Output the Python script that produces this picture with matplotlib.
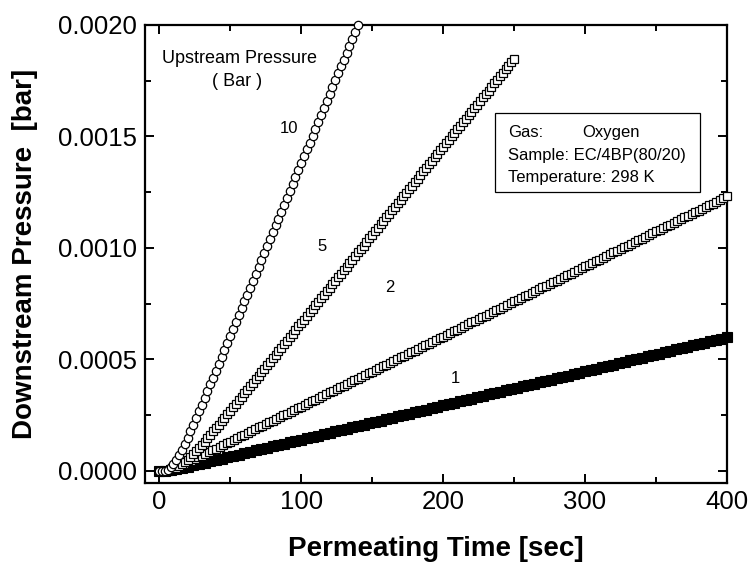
import numpy as np
import matplotlib
matplotlib.use('Agg')
import matplotlib.pyplot as plt
from matplotlib.ticker import MultipleLocator, FormatStrFormatter
from matplotlib.patches import Rectangle

plt.rcParams['font.family'] = ['Liberation Sans', 'DejaVu Sans']

# ---------------- data (downstream pressure in micro-bar) ----------------
# sampling interval of each run [s]
step_10 = 2.0
step_5 = 2.0
step_2 = 2.5
step_1 = 4.0

# Upstream pressure 10 bar
p10_ubar = [0, 0, 1, 6, 16, 31, 50, 72, 96, 123, 150, 178, 207, 237, 267, 297,
            327, 358, 388, 419, 450, 481, 512, 543, 574, 605, 636, 667, 698, 729,
            760, 791, 822, 853, 884, 915, 946, 977, 1008, 1039, 1070, 1101, 1132,
            1163, 1194, 1225, 1256, 1287, 1318, 1349, 1380, 1411, 1442, 1473, 1504,
            1535, 1566, 1597, 1628, 1659, 1690, 1721, 1752, 1783, 1814, 1845, 1876,
            1907, 1938, 1969, 2000]

# Upstream pressure 5 bar
p5_ubar = [0, 0, 0, 1, 3, 7, 13, 21, 30, 40, 51, 63, 76, 90, 103, 118, 132, 147,
           162, 177, 192, 207, 223, 238, 254, 270, 285, 301, 316, 332, 348, 364,
           379, 395, 411, 427, 442, 458, 474, 490, 506, 521,
           537, 553, 569, 585, 600, 616, 632, 648, 664, 679,
           695, 711, 727, 743, 758, 774, 790, 806, 822, 837,
           853, 869, 885, 901, 916, 932, 948, 964, 980, 995,
           1011, 1027, 1043, 1059, 1074, 1090, 1106, 1122, 1138, 1153,
           1169, 1185, 1201, 1217, 1232, 1248, 1264, 1280, 1296, 1311,
           1327, 1343, 1359, 1375, 1390, 1406, 1422, 1438, 1454, 1469,
           1485, 1501, 1517, 1533, 1548, 1564, 1580, 1596, 1612, 1627,
           1643, 1659, 1675, 1691, 1706, 1722, 1738, 1754, 1770, 1785,
           1801, 1817, 1833, 1849]

# Upstream pressure 2 bar
p2_ubar = [0, 0, 1, 5, 10, 16, 23, 31, 38, 46, 54,
           61, 69, 77, 85, 93, 100, 108, 116, 124, 132,
           140, 148, 155, 163, 171, 179, 187, 195, 203, 210,
           218, 226, 234, 242, 250, 257, 265, 273, 281, 289,
           297, 305, 312, 320, 328, 336, 344, 352, 360, 367,
           375, 383, 391, 399, 407, 414, 422, 430, 438, 446,
           454, 462, 469, 477, 485, 493, 501, 509, 517, 524,
           532, 540, 548, 556, 564, 571, 579, 587, 595, 603,
           611, 619, 626, 634, 642, 650, 658, 666, 674, 681,
           689, 697, 705, 713, 721, 728, 736, 744, 752, 760,
           768, 776, 783, 791, 799, 807, 815, 823, 831, 838,
           846, 854, 862, 870, 878, 885, 893, 901, 909, 917,
           925, 933, 940, 948, 956, 964, 972, 980, 988, 995,
           1003, 1011, 1019, 1027, 1035, 1042, 1050, 1058, 1066, 1074,
           1082, 1090, 1097, 1105, 1113, 1121, 1129, 1137, 1145, 1152,
           1160, 1168, 1176, 1184, 1192, 1199, 1207, 1215, 1223, 1231]

# Upstream pressure 1 bar
p1_ubar = [0, 0, 3, 7, 13, 19, 25,
           31, 37, 43, 49, 55, 61, 67, 73, 80, 86,
           92, 98, 104, 110, 116, 122, 129, 135, 141, 147,
           153, 159, 165, 171, 177, 184, 190, 196, 202, 208,
           214, 220, 226, 233, 239, 245, 251, 257, 263, 269,
           275, 282, 288, 294, 300, 306, 312, 318, 324, 330,
           337, 343, 349, 355, 361, 367, 373, 379, 386, 392,
           398, 404, 410, 416, 422, 428, 435, 441, 447, 453,
           459, 465, 471, 477, 483, 490, 496, 502, 508, 514,
           520, 526, 532, 539, 545, 551, 557, 563, 569, 575,
           581, 588, 594, 600]

curve_labels = ['10', '5', '2', '1']
x_ticks = [0, 100, 200, 300, 400]
y_ticks = [0.0, 0.0005, 0.0010, 0.0015, 0.0020]
info_lines = [('Gas:', 'Oxygen'), ('Sample: EC/4BP(80/20)', None), ('Temperature: 298 K', None)]


def series(vals, step):
    y = np.asarray(vals, dtype=float) * 1e-6
    t = np.arange(len(y)) * step
    return t, y


t10, y10 = series(p10_ubar, step_10)
t5, y5 = series(p5_ubar, step_5)
t2, y2 = series(p2_ubar, step_2)
t1, y1 = series(p1_ubar, step_1)

# ---------------- figure ----------------
W, H = 750, 562
fig = plt.figure(figsize=(W / 100, H / 100), dpi=100)
L, R, T, B = 145, 727, 25, 483
ax = fig.add_axes([L / W, (H - B) / H, (R - L) / W, (B - T) / H])

def ax_xy(px, py):
    return (px - L) / (R - L), (B - py) / (B - T)

ax.plot(t1, y1, linestyle='none', marker='s', markersize=7.4, mfc='black',
        mec='black', mew=0.8, clip_on=False, zorder=3)
ax.plot(t2, y2, linestyle='none', marker='s', markersize=5.8, mfc='white',
        mec='black', mew=0.9, clip_on=False, zorder=4)
ax.plot(t5, y5, linestyle='none', marker='s', markersize=5.8, mfc='white',
        mec='black', mew=0.9, clip_on=False, zorder=5)
ax.plot(t10, y10, linestyle='none', marker='o', markersize=6.0, mfc='white',
        mec='black', mew=0.9, clip_on=False, zorder=6)

ax.set_xlim(-10, 400)
ax.set_ylim(-0.000054, 0.002)
ax.set_xticks(x_ticks)
ax.set_yticks(y_ticks)
ax.xaxis.set_minor_locator(MultipleLocator(50))
ax.yaxis.set_minor_locator(MultipleLocator(0.00025))
ax.yaxis.set_major_formatter(FormatStrFormatter('%.4f'))

for s in ax.spines.values():
    s.set_linewidth(1.6)
ax.tick_params(which='both', direction='in', top=True, right=True, width=1.4)
ax.tick_params(which='major', length=6.5, labelsize=18.5, pad=5)
ax.tick_params(which='minor', length=4)
ax.tick_params(axis='y', which='major', pad=6)

ax.set_xlabel('Permeating Time [sec]', fontsize=20, fontweight='bold', labelpad=16)
ax.set_ylabel('Downstream Pressure  [bar]', fontsize=20, fontweight='bold', labelpad=14)

# annotations
tx, ty = ax_xy(239, 62.7)
ax.text(tx, ty, 'Upstream Pressure', transform=ax.transAxes, fontsize=13,
        ha='center', va='baseline')
tx, ty = ax_xy(237, 86)
ax.text(tx, ty, '( Bar )', transform=ax.transAxes, fontsize=13,
        ha='center', va='baseline')

label_pos = [(289, 132.7), (322, 251), (390, 292), (455, 383)]
for lab, (px, py) in zip(curve_labels, label_pos):
    tx, ty = ax_xy(px, py)
    ax.text(tx, ty, lab, transform=ax.transAxes, fontsize=12, ha='center', va='baseline')

bx0, by0 = ax_xy(495, 192)
bx1, by1 = ax_xy(700, 113)
ax.add_patch(Rectangle((bx0, by0), bx1 - bx0, by1 - by0, transform=ax.transAxes,
                       fill=False, edgecolor='black', linewidth=0.9, zorder=7))
base_y = [136.7, 160, 181.7]
for (left, right), py in zip(info_lines, base_y):
    tx, ty = ax_xy(508, py)
    ax.text(tx, ty, left, transform=ax.transAxes, fontsize=12, ha='left', va='baseline', zorder=8)
    if right:
        tx2, _ = ax_xy(582, py)
        ax.text(tx2, ty, right, transform=ax.transAxes, fontsize=12, ha='left', va='baseline', zorder=8)

fig.savefig('out.png', dpi=100)
